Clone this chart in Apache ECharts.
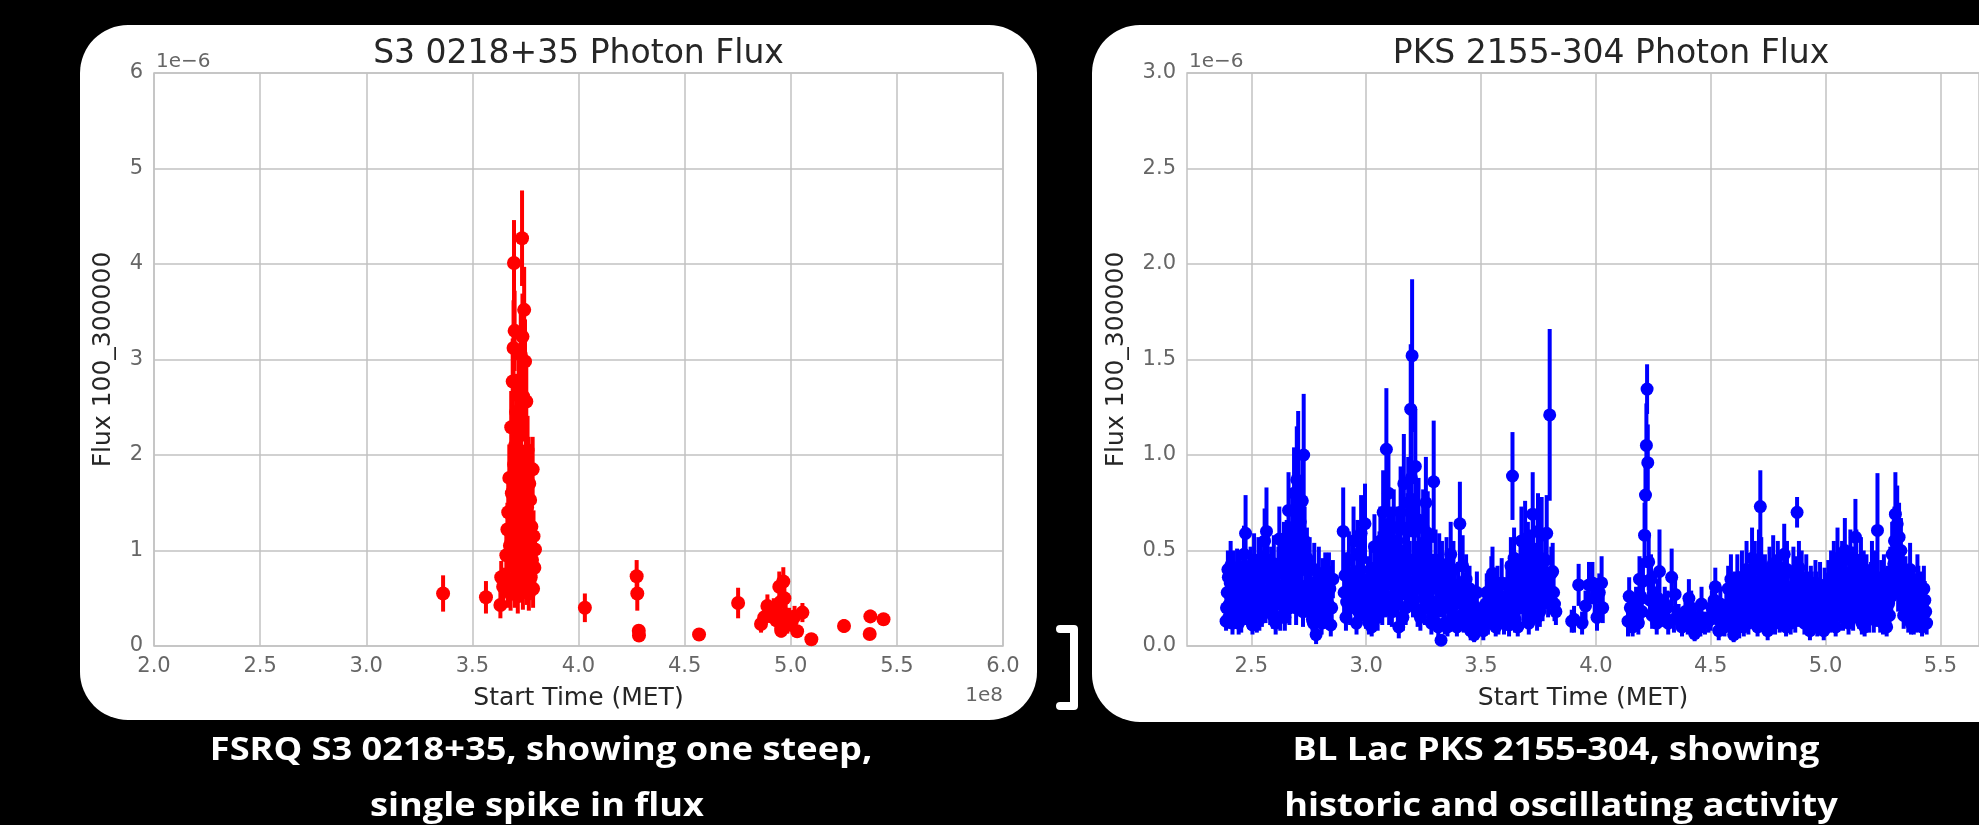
<!DOCTYPE html>
<html>
<head>
<meta charset="utf-8">
<script src="https://cdn.jsdelivr.net/npm/echarts@6/dist/echarts.min.js"></script>
<style>
    html, body { margin: 0; padding: 0; background: #000; }
    #wrap { position: relative; width: 1979px; height: 825px; overflow: hidden; background: #000; }
    .panel { position: absolute; background: #fff; border-radius: 48px; }
    #chart { position: absolute; left: 0; top: 0; width: 1979px; height: 825px; }
</style>
</head>
<body>
<div id="wrap">
    <div class="panel" style="left:80px;top:25px;width:957px;height:695px;"></div>
    <div class="panel" style="left:1092px;top:25px;width:1000px;height:697px;"></div>
    <div id="chart"></div>
</div>
<script>
// time in units of 1e8 s (MET), flux and error in units of 1e-6
const s3Points = [
    [3.362, 0.55, 0.19], [3.564, 0.51, 0.17], [3.632, 0.43, 0.14], [3.636, 0.72, 0.17], [3.645, 0.62, 0.20],
    [3.660, 0.95, 0.25], [3.665, 1.22, 0.28], [3.669, 1.40, 0.30], [3.672, 0.70, 0.22], [3.674, 1.76, 0.35],
    [3.677, 1.05, 0.25], [3.680, 0.55, 0.18], [3.683, 2.29, 0.38], [3.686, 1.60, 0.32], [3.688, 0.85, 0.24],
    [3.690, 2.77, 0.45], [3.692, 1.30, 0.30], [3.694, 3.12, 0.50], [3.696, 4.01, 0.45], [3.697, 1.90, 0.36],
    [3.699, 3.30, 0.42], [3.700, 0.62, 0.22], [3.702, 2.10, 0.38], [3.704, 1.15, 0.28], [3.706, 2.45, 0.40],
    [3.708, 0.80, 0.25], [3.710, 1.50, 0.32], [3.712, 2.00, 0.36], [3.714, 0.52, 0.18], [3.716, 1.75, 0.34],
    [3.718, 2.62, 0.40], [3.720, 1.02, 0.26], [3.722, 1.35, 0.30], [3.724, 0.70, 0.22], [3.726, 1.95, 0.36],
    [3.728, 3.05, 0.45], [3.730, 2.40, 0.40], [3.732, 1.20, 0.28], [3.734, 4.27, 0.50], [3.736, 3.24, 0.45],
    [3.738, 0.58, 0.20], [3.740, 2.61, 0.40], [3.742, 1.65, 0.33], [3.744, 3.52, 0.45], [3.746, 0.90, 0.25],
    [3.748, 2.98, 0.44], [3.750, 1.10, 0.27], [3.752, 1.85, 0.35], [3.754, 2.56, 0.40], [3.756, 0.65, 0.22],
    [3.758, 1.45, 0.30], [3.760, 2.05, 0.36], [3.762, 0.80, 0.24], [3.764, 1.28, 0.29], [3.766, 0.55, 0.18],
    [3.768, 1.70, 0.33], [3.770, 1.00, 0.26], [3.772, 1.53, 0.31], [3.775, 0.72, 0.22], [3.778, 1.25, 0.28],
    [3.781, 0.90, 0.25], [3.784, 1.85, 0.34], [3.788, 1.15, 0.27], [3.792, 0.82, 0.24], [3.795, 1.01, 0.26],
    [3.667, 0.60, 0.20], [3.685, 1.10, 0.28], [3.698, 1.45, 0.32], [3.707, 1.80, 0.35], [3.715, 1.20, 0.29],
    [3.723, 2.20, 0.38], [3.733, 1.60, 0.33], [3.741, 0.75, 0.24], [3.749, 1.35, 0.30], [3.757, 1.00, 0.27],
    [3.765, 1.85, 0.34], [3.773, 1.15, 0.28], [3.786, 0.60, 0.20],
    [4.030, 0.40, 0.15], [4.274, 0.73, 0.17], [4.277, 0.55, 0.18], [4.284, 0.16, 0.05], [4.285, 0.11, 0.04],
    [4.568, 0.12, 0.03], [4.752, 0.45, 0.16], [4.860, 0.23, 0.09], [4.875, 0.30, 0.10], [4.890, 0.42, 0.12],
    [4.905, 0.35, 0.11], [4.920, 0.38, 0.12], [4.932, 0.27, 0.10], [4.946, 0.62, 0.16], [4.952, 0.46, 0.14],
    [4.955, 0.16, 0.07], [4.965, 0.675, 0.15], [4.970, 0.50, 0.14], [4.976, 0.33, 0.11], [4.984, 0.22, 0.09],
    [4.992, 0.30, 0.10], [5.005, 0.26, 0.10], [5.018, 0.31, 0.11], [5.030, 0.155, 0.06], [5.055, 0.35, 0.10],
    [5.097, 0.07, 0.03], [5.251, 0.21, 0.07], [5.372, 0.125, 0.05], [5.375, 0.31, 0.07], [5.437, 0.28, 0.05]
];

const pksPoints = [
    [2.390, 0.13, 0.05], [2.395, 0.28, 0.10], [2.400, 0.36, 0.12], [2.405, 0.22, 0.08], [2.410, 0.42, 0.13],
    [2.415, 0.18, 0.07], [2.420, 0.31, 0.11], [2.425, 0.15, 0.06], [2.430, 0.26, 0.10], [2.438, 0.38, 0.13],
    [2.445, 0.12, 0.06], [2.452, 0.20, 0.08], [2.460, 0.33, 0.12], [2.468, 0.48, 0.15], [2.475, 0.59, 0.20],
    [2.482, 0.27, 0.10], [2.490, 0.16, 0.07], [2.497, 0.38, 0.14], [2.505, 0.11, 0.05], [2.512, 0.45, 0.14],
    [2.520, 0.22, 0.09], [2.528, 0.30, 0.11], [2.535, 0.14, 0.06], [2.542, 0.40, 0.13], [2.550, 0.25, 0.10],
    [2.558, 0.55, 0.17], [2.566, 0.60, 0.23], [2.574, 0.35, 0.12], [2.582, 0.18, 0.07], [2.590, 0.28, 0.11],
    [2.598, 0.43, 0.15], [2.606, 0.12, 0.06], [2.614, 0.32, 0.12], [2.622, 0.56, 0.17], [2.630, 0.24, 0.09],
    [2.638, 0.40, 0.14], [2.646, 0.15, 0.07], [2.654, 0.50, 0.16], [2.662, 0.71, 0.20], [2.670, 0.34, 0.12],
    [2.678, 0.62, 0.20], [2.686, 0.80, 0.24], [2.692, 0.45, 0.15], [2.698, 0.87, 0.28], [2.704, 0.86, 0.37],
    [2.710, 0.55, 0.18], [2.716, 0.28, 0.10], [2.722, 0.76, 0.22], [2.728, 1.00, 0.32], [2.735, 0.40, 0.14],
    [2.742, 0.46, 0.16], [2.750, 0.20, 0.08], [2.758, 0.33, 0.12], [2.766, 0.14, 0.06], [2.774, 0.40, 0.14],
    [2.782, 0.06, 0.05], [2.790, 0.22, 0.09], [2.798, 0.30, 0.11], [2.806, 0.12, 0.06], [2.814, 0.26, 0.10],
    [2.822, 0.35, 0.14], [2.830, 0.18, 0.08], [2.838, 0.35, 0.14], [2.846, 0.11, 0.06], [2.855, 0.35, 0.10],
    [2.900, 0.60, 0.23], [2.908, 0.37, 0.12], [2.915, 0.23, 0.09], [2.925, 0.45, 0.15], [2.935, 0.30, 0.11],
    [2.945, 0.55, 0.18], [2.955, 0.20, 0.08], [2.962, 0.48, 0.18], [2.970, 0.18, 0.07], [2.978, 0.59, 0.20],
    [2.986, 0.35, 0.12], [2.995, 0.64, 0.21], [3.003, 0.25, 0.10], [3.012, 0.12, 0.06], [3.020, 0.40, 0.14],
    [3.028, 0.20, 0.08], [3.036, 0.52, 0.17], [3.044, 0.28, 0.11], [3.050, 0.15, 0.07], [3.058, 0.45, 0.15],
    [3.066, 0.33, 0.12], [3.074, 0.70, 0.22], [3.082, 0.25, 0.10], [3.088, 1.03, 0.32], [3.097, 0.80, 0.25],
    [3.104, 0.45, 0.16], [3.112, 0.18, 0.08], [3.120, 0.62, 0.20], [3.127, 0.30, 0.11], [3.135, 0.55, 0.18],
    [3.142, 0.10, 0.06], [3.150, 0.70, 0.24], [3.157, 0.38, 0.14], [3.164, 0.85, 0.26], [3.172, 0.20, 0.09],
    [3.180, 0.60, 0.20], [3.187, 0.30, 0.12], [3.194, 1.24, 0.34], [3.200, 1.52, 0.40], [3.207, 0.45, 0.16],
    [3.214, 0.94, 0.30], [3.220, 0.30, 0.11], [3.228, 0.66, 0.22], [3.236, 0.15, 0.07], [3.244, 0.50, 0.18],
    [3.252, 0.25, 0.10], [3.260, 0.75, 0.24], [3.268, 0.59, 0.22], [3.276, 0.35, 0.13], [3.284, 0.12, 0.06],
    [3.294, 0.86, 0.32], [3.302, 0.45, 0.16], [3.310, 0.20, 0.09], [3.318, 0.44, 0.15], [3.326, 0.03, 0.03],
    [3.334, 0.28, 0.11], [3.342, 0.12, 0.06], [3.350, 0.42, 0.15], [3.358, 0.22, 0.09], [3.368, 0.48, 0.17],
    [3.376, 0.15, 0.07], [3.385, 0.30, 0.11], [3.395, 0.10, 0.05], [3.408, 0.64, 0.22], [3.416, 0.25, 0.10],
    [3.425, 0.14, 0.07], [3.435, 0.35, 0.13], [3.445, 0.20, 0.08], [3.455, 0.08, 0.05], [3.462, 0.22, 0.09],
    [3.470, 0.06, 0.04], [3.478, 0.20, 0.08], [3.488, 0.12, 0.06], [3.505, 0.13, 0.06], [3.515, 0.18, 0.08],
    [3.525, 0.28, 0.10], [3.535, 0.20, 0.09], [3.545, 0.34, 0.13], [3.552, 0.14, 0.06], [3.560, 0.30, 0.11],
    [3.568, 0.22, 0.09], [3.576, 0.12, 0.06], [3.585, 0.25, 0.10], [3.595, 0.16, 0.07], [3.605, 0.20, 0.08],
    [3.615, 0.32, 0.12], [3.622, 0.11, 0.06], [3.630, 0.42, 0.15], [3.637, 0.89, 0.23], [3.644, 0.46, 0.16],
    [3.652, 0.25, 0.10], [3.660, 0.10, 0.05], [3.668, 0.30, 0.11], [3.676, 0.55, 0.18], [3.684, 0.20, 0.08],
    [3.692, 0.56, 0.20], [3.700, 0.35, 0.13], [3.708, 0.12, 0.06], [3.716, 0.45, 0.16], [3.725, 0.69, 0.22],
    [3.732, 0.25, 0.10], [3.740, 0.40, 0.14], [3.748, 0.60, 0.20], [3.756, 0.18, 0.08], [3.764, 0.58, 0.20],
    [3.772, 0.30, 0.11], [3.780, 0.45, 0.16], [3.786, 0.59, 0.20], [3.799, 1.21, 0.45], [3.806, 0.38, 0.14],
    [3.812, 0.39, 0.15], [3.820, 0.22, 0.09], [3.826, 0.18, 0.07], [3.895, 0.13, 0.06], [3.905, 0.14, 0.07],
    [3.925, 0.32, 0.11], [3.940, 0.12, 0.06], [3.955, 0.21, 0.08], [3.970, 0.32, 0.12], [3.985, 0.33, 0.11],
    [3.995, 0.25, 0.09], [4.005, 0.15, 0.07], [4.015, 0.28, 0.10], [4.025, 0.33, 0.14], [4.030, 0.20, 0.08],
    [4.140, 0.13, 0.08], [4.150, 0.20, 0.08], [4.160, 0.10, 0.05], [4.175, 0.22, 0.09], [4.190, 0.35, 0.12],
    [4.200, 0.18, 0.08], [4.205, 0.34, 0.12], [4.212, 0.58, 0.17], [4.216, 0.79, 0.18], [4.220, 1.05, 0.22],
    [4.223, 1.345, 0.13], [4.226, 0.96, 0.20], [4.230, 0.44, 0.15], [4.236, 0.24, 0.09], [4.245, 0.16, 0.07],
    [4.255, 0.20, 0.08], [4.265, 0.12, 0.06], [4.277, 0.39, 0.22], [4.290, 0.17, 0.07], [4.300, 0.22, 0.09],
    [4.315, 0.12, 0.06], [4.330, 0.36, 0.15], [4.345, 0.27, 0.10], [4.360, 0.15, 0.07], [4.375, 0.10, 0.05],
    [4.390, 0.18, 0.08], [4.405, 0.25, 0.10], [4.420, 0.11, 0.06], [4.430, 0.065, 0.04], [4.445, 0.15, 0.07],
    [4.460, 0.22, 0.09], [4.475, 0.12, 0.06], [4.490, 0.13, 0.06], [4.505, 0.20, 0.09], [4.520, 0.31, 0.10],
    [4.535, 0.08, 0.05], [4.548, 0.15, 0.07], [4.560, 0.10, 0.05], [4.568, 0.205, 0.08], [4.576, 0.30, 0.12],
    [4.584, 0.12, 0.06], [4.592, 0.25, 0.10], [4.600, 0.06, 0.04], [4.608, 0.18, 0.08], [4.616, 0.35, 0.13],
    [4.624, 0.10, 0.06], [4.632, 0.28, 0.11], [4.640, 0.15, 0.07], [4.648, 0.22, 0.09], [4.656, 0.40, 0.15],
    [4.664, 0.12, 0.06], [4.672, 0.30, 0.12], [4.680, 0.46, 0.16], [4.688, 0.18, 0.08], [4.696, 0.26, 0.10],
    [4.704, 0.10, 0.05], [4.710, 0.45, 0.16], [4.716, 0.73, 0.19], [4.724, 0.33, 0.12], [4.732, 0.15, 0.07],
    [4.740, 0.25, 0.10], [4.748, 0.08, 0.05], [4.756, 0.38, 0.14], [4.764, 0.20, 0.08], [4.772, 0.43, 0.15],
    [4.780, 0.12, 0.06], [4.788, 0.28, 0.11], [4.796, 0.16, 0.07], [4.804, 0.34, 0.13], [4.812, 0.22, 0.09],
    [4.820, 0.48, 0.16], [4.828, 0.10, 0.05], [4.836, 0.30, 0.11], [4.844, 0.18, 0.08], [4.852, 0.26, 0.10],
    [4.860, 0.38, 0.14], [4.868, 0.14, 0.07], [4.876, 0.70, 0.08], [4.884, 0.41, 0.14], [4.892, 0.20, 0.08],
    [4.900, 0.30, 0.11], [4.908, 0.12, 0.06], [4.916, 0.35, 0.13], [4.924, 0.22, 0.09], [4.932, 0.08, 0.05],
    [4.940, 0.28, 0.11], [4.948, 0.15, 0.07], [4.956, 0.33, 0.12], [4.964, 0.10, 0.05], [4.972, 0.25, 0.10],
    [4.980, 0.18, 0.08], [4.988, 0.12, 0.06], [4.996, 0.30, 0.11], [5.004, 0.20, 0.09], [5.012, 0.33, 0.12],
    [5.020, 0.14, 0.07], [5.028, 0.26, 0.10], [5.036, 0.40, 0.15], [5.044, 0.10, 0.05], [5.052, 0.46, 0.16],
    [5.060, 0.22, 0.09], [5.068, 0.35, 0.13], [5.076, 0.15, 0.07], [5.084, 0.50, 0.17], [5.092, 0.28, 0.11],
    [5.100, 0.12, 0.06], [5.108, 0.45, 0.16], [5.116, 0.20, 0.09], [5.124, 0.38, 0.14], [5.130, 0.57, 0.20],
    [5.138, 0.30, 0.11], [5.146, 0.16, 0.07], [5.154, 0.42, 0.15], [5.162, 0.24, 0.09], [5.170, 0.10, 0.05],
    [5.178, 0.35, 0.13], [5.186, 0.18, 0.08], [5.194, 0.28, 0.11], [5.202, 0.40, 0.15], [5.210, 0.14, 0.07],
    [5.218, 0.26, 0.10], [5.226, 0.605, 0.30], [5.234, 0.20, 0.08], [5.242, 0.33, 0.12], [5.250, 0.12, 0.06],
    [5.258, 0.30, 0.11], [5.266, 0.10, 0.05], [5.274, 0.22, 0.09], [5.282, 0.38, 0.14], [5.290, 0.48, 0.17],
    [5.297, 0.43, 0.15], [5.304, 0.69, 0.22], [5.312, 0.64, 0.20], [5.320, 0.57, 0.18], [5.328, 0.50, 0.17],
    [5.336, 0.36, 0.13], [5.344, 0.22, 0.09], [5.352, 0.30, 0.11], [5.360, 0.14, 0.07], [5.368, 0.40, 0.14],
    [5.376, 0.20, 0.08], [5.384, 0.12, 0.06], [5.392, 0.25, 0.10], [5.400, 0.35, 0.13], [5.408, 0.15, 0.07],
    [5.416, 0.28, 0.11], [5.424, 0.20, 0.09], [5.432, 0.24, 0.10], [5.440, 0.12, 0.06],
    // in-between bins
    [2.392, 0.20, 0.09], [2.398, 0.40, 0.10], [2.402, 0.15, 0.06], [2.408, 0.33, 0.12], [2.412, 0.25, 0.10],
    [2.418, 0.12, 0.06], [2.423, 0.38, 0.12], [2.428, 0.20, 0.09], [2.434, 0.30, 0.12], [2.442, 0.24, 0.10],
    [2.448, 0.35, 0.13], [2.456, 0.14, 0.07], [2.464, 0.26, 0.10], [2.471, 0.38, 0.14], [2.478, 0.20, 0.09],
    [2.486, 0.32, 0.13], [2.494, 0.22, 0.09], [2.501, 0.30, 0.12], [2.508, 0.18, 0.08], [2.516, 0.35, 0.13],
    [2.524, 0.13, 0.06], [2.531, 0.42, 0.15], [2.538, 0.26, 0.11], [2.546, 0.18, 0.08], [2.554, 0.36, 0.14],
    [2.562, 0.22, 0.10], [2.570, 0.45, 0.16], [2.578, 0.27, 0.11], [2.586, 0.38, 0.14], [2.594, 0.16, 0.07],
    [2.602, 0.30, 0.12], [2.610, 0.22, 0.09], [2.618, 0.38, 0.14], [2.626, 0.15, 0.07], [2.634, 0.30, 0.12],
    [2.642, 0.48, 0.17], [2.650, 0.26, 0.10], [2.658, 0.36, 0.14], [2.666, 0.20, 0.09], [2.674, 0.45, 0.16],
    [2.682, 0.30, 0.12], [2.689, 0.62, 0.22], [2.695, 0.20, 0.09], [2.701, 0.40, 0.16], [2.707, 0.32, 0.13],
    [2.713, 0.65, 0.22], [2.719, 0.45, 0.17], [2.725, 0.18, 0.08], [2.732, 0.55, 0.18], [2.738, 0.25, 0.10],
    [2.746, 0.32, 0.12], [2.754, 0.42, 0.15], [2.762, 0.24, 0.10], [2.770, 0.12, 0.06], [2.778, 0.28, 0.11],
    [2.786, 0.18, 0.08], [2.794, 0.38, 0.14], [2.802, 0.22, 0.09], [2.810, 0.34, 0.12], [2.818, 0.16, 0.07],
    [2.826, 0.28, 0.11], [2.834, 0.22, 0.09], [2.842, 0.30, 0.12], [2.850, 0.20, 0.09],
    [2.904, 0.28, 0.11], [2.912, 0.15, 0.07], [2.920, 0.36, 0.13], [2.930, 0.20, 0.09], [2.940, 0.38, 0.14],
    [2.950, 0.26, 0.10], [2.958, 0.12, 0.06], [2.966, 0.33, 0.13], [2.974, 0.40, 0.15], [2.982, 0.22, 0.09],
    [2.990, 0.30, 0.12], [2.999, 0.16, 0.07], [3.008, 0.34, 0.13], [3.016, 0.24, 0.10], [3.024, 0.10, 0.05],
    [3.032, 0.32, 0.12], [3.040, 0.18, 0.08], [3.047, 0.38, 0.14], [3.054, 0.24, 0.10], [3.062, 0.55, 0.18],
    [3.070, 0.20, 0.09], [3.078, 0.40, 0.15], [3.085, 0.50, 0.17], [3.093, 0.33, 0.13], [3.100, 0.20, 0.09],
    [3.108, 0.55, 0.18], [3.116, 0.36, 0.14], [3.124, 0.25, 0.10], [3.131, 0.42, 0.15], [3.138, 0.22, 0.09],
    [3.146, 0.50, 0.18], [3.153, 0.28, 0.11], [3.160, 0.15, 0.07], [3.168, 0.48, 0.17], [3.176, 0.35, 0.13],
    [3.183, 0.75, 0.24], [3.190, 0.40, 0.15], [3.197, 0.88, 0.28], [3.204, 0.25, 0.10], [3.210, 0.60, 0.20],
    [3.217, 0.40, 0.15], [3.224, 0.18, 0.08], [3.232, 0.42, 0.15], [3.240, 0.30, 0.12], [3.248, 0.62, 0.20],
    [3.256, 0.20, 0.09], [3.264, 0.38, 0.14], [3.272, 0.22, 0.09], [3.280, 0.45, 0.16], [3.288, 0.30, 0.12],
    [3.298, 0.18, 0.08], [3.306, 0.35, 0.13], [3.314, 0.10, 0.05], [3.322, 0.25, 0.10], [3.330, 0.40, 0.15],
    [3.338, 0.20, 0.09], [3.346, 0.30, 0.12], [3.354, 0.10, 0.05], [3.363, 0.35, 0.13], [3.372, 0.22, 0.09],
    [3.380, 0.40, 0.15], [3.390, 0.22, 0.09], [3.400, 0.32, 0.12], [3.412, 0.16, 0.07], [3.420, 0.42, 0.16],
    [3.430, 0.25, 0.10], [3.440, 0.12, 0.06], [3.450, 0.30, 0.12], [3.466, 0.14, 0.07], [3.482, 0.28, 0.11],
    [3.510, 0.08, 0.05], [3.520, 0.22, 0.09], [3.530, 0.12, 0.06], [3.540, 0.25, 0.10], [3.550, 0.38, 0.14],
    [3.557, 0.20, 0.09], [3.564, 0.10, 0.05], [3.572, 0.30, 0.12], [3.580, 0.18, 0.08], [3.590, 0.33, 0.13],
    [3.600, 0.12, 0.06], [3.610, 0.26, 0.10], [3.618, 0.18, 0.08], [3.626, 0.30, 0.12], [3.634, 0.22, 0.09],
    [3.641, 0.38, 0.14], [3.648, 0.14, 0.07], [3.656, 0.35, 0.13], [3.664, 0.20, 0.09], [3.672, 0.42, 0.15],
    [3.680, 0.28, 0.11], [3.688, 0.38, 0.14], [3.696, 0.22, 0.09], [3.704, 0.48, 0.17], [3.712, 0.30, 0.12],
    [3.720, 0.20, 0.09], [3.728, 0.50, 0.18], [3.736, 0.32, 0.12], [3.744, 0.15, 0.07], [3.752, 0.42, 0.15],
    [3.760, 0.30, 0.12], [3.768, 0.22, 0.09], [3.776, 0.36, 0.13], [3.792, 0.25, 0.10], [3.816, 0.28, 0.11],
    [4.145, 0.26, 0.10], [4.170, 0.15, 0.07], [4.185, 0.12, 0.06], [4.195, 0.26, 0.10], [4.240, 0.35, 0.13],
    [4.250, 0.28, 0.11], [4.260, 0.16, 0.07], [4.270, 0.25, 0.10], [4.310, 0.20, 0.09], [4.340, 0.14, 0.07],
    [4.400, 0.12, 0.06], [4.415, 0.20, 0.09], [4.455, 0.10, 0.05], [4.500, 0.15, 0.07], [4.515, 0.24, 0.10],
    [4.530, 0.14, 0.07], [4.542, 0.22, 0.09],
    [4.572, 0.15, 0.07], [4.580, 0.22, 0.09], [4.588, 0.35, 0.13], [4.596, 0.14, 0.07], [4.604, 0.28, 0.11],
    [4.612, 0.12, 0.06], [4.620, 0.25, 0.10], [4.628, 0.20, 0.09], [4.636, 0.36, 0.14], [4.644, 0.10, 0.05],
    [4.652, 0.30, 0.12], [4.660, 0.22, 0.09], [4.668, 0.16, 0.07], [4.676, 0.35, 0.13], [4.684, 0.25, 0.10],
    [4.692, 0.40, 0.15], [4.700, 0.20, 0.09], [4.707, 0.30, 0.12], [4.713, 0.18, 0.08], [4.720, 0.42, 0.15],
    [4.728, 0.24, 0.10], [4.736, 0.35, 0.13], [4.744, 0.20, 0.09], [4.752, 0.30, 0.12], [4.760, 0.12, 0.06],
    [4.768, 0.26, 0.10], [4.776, 0.35, 0.13], [4.784, 0.20, 0.09], [4.792, 0.40, 0.15], [4.800, 0.14, 0.07],
    [4.808, 0.25, 0.10], [4.816, 0.32, 0.12], [4.824, 0.20, 0.09], [4.832, 0.40, 0.15], [4.840, 0.24, 0.10],
    [4.848, 0.12, 0.06], [4.856, 0.30, 0.12], [4.864, 0.22, 0.09], [4.872, 0.34, 0.13], [4.880, 0.18, 0.08],
    [4.888, 0.28, 0.11], [4.896, 0.36, 0.14], [4.904, 0.22, 0.09], [4.912, 0.15, 0.07], [4.920, 0.28, 0.11],
    [4.928, 0.20, 0.09], [4.936, 0.30, 0.12], [4.944, 0.12, 0.06], [4.952, 0.22, 0.09], [4.960, 0.28, 0.11],
    [4.968, 0.16, 0.07], [4.976, 0.32, 0.12], [4.984, 0.22, 0.09], [4.992, 0.08, 0.05], [5.000, 0.26, 0.10],
    [5.008, 0.14, 0.07], [5.016, 0.22, 0.09], [5.024, 0.36, 0.14], [5.032, 0.20, 0.09], [5.040, 0.30, 0.12],
    [5.048, 0.18, 0.08], [5.056, 0.34, 0.13], [5.064, 0.26, 0.10], [5.072, 0.40, 0.15], [5.080, 0.22, 0.09],
    [5.088, 0.34, 0.13], [5.096, 0.18, 0.08], [5.104, 0.30, 0.12], [5.112, 0.38, 0.14], [5.120, 0.15, 0.07],
    [5.128, 0.30, 0.12], [5.134, 0.45, 0.16], [5.142, 0.22, 0.09], [5.150, 0.32, 0.12], [5.158, 0.12, 0.06],
    [5.166, 0.36, 0.14], [5.174, 0.20, 0.09], [5.182, 0.28, 0.11], [5.190, 0.14, 0.07], [5.198, 0.32, 0.12],
    [5.206, 0.22, 0.09], [5.214, 0.36, 0.14], [5.222, 0.18, 0.08], [5.230, 0.28, 0.11], [5.238, 0.14, 0.07],
    [5.246, 0.24, 0.10], [5.254, 0.35, 0.13], [5.262, 0.20, 0.09], [5.270, 0.30, 0.12], [5.278, 0.16, 0.07],
    [5.286, 0.26, 0.10], [5.294, 0.35, 0.13], [5.300, 0.55, 0.18], [5.308, 0.40, 0.15], [5.316, 0.30, 0.12],
    [5.324, 0.44, 0.16], [5.332, 0.28, 0.11], [5.340, 0.16, 0.07], [5.348, 0.34, 0.13], [5.356, 0.24, 0.10],
    [5.364, 0.30, 0.12], [5.372, 0.12, 0.06], [5.380, 0.28, 0.11], [5.388, 0.20, 0.09], [5.396, 0.14, 0.07],
    [5.404, 0.30, 0.12], [5.412, 0.22, 0.09], [5.420, 0.10, 0.05], [5.428, 0.30, 0.12], [5.436, 0.18, 0.08]
];

const s3XTicks = [2.0, 2.5, 3.0, 3.5, 4.0, 4.5, 5.0, 5.5, 6.0];
const pksXTicks = [2.5, 3.0, 3.5, 4.0, 4.5, 5.0, 5.5];

const titles = ['S3 0218+35 Photon Flux', 'PKS 2155-304 Photon Flux'];
const captions = [
    ['FSRQ S3 0218+35, showing one steep,', 'single spike in flux'],
    ['BL Lac PKS 2155-304, showing', 'historic and oscillating activity']
];

var myChart = echarts.init(document.getElementById('chart'));

var gridCol = '#c2c2c2';
var tickCol = '#666';
var labelCol = '#262626';
var mplFont = 'DejaVu Sans';

function errorBars(width) {
    return function (params, api) {
        var x = api.value(0), y = api.value(1), e = api.value(2);
        var p1 = api.coord([x, y + e]);
        var p2 = api.coord([x, y - e]);
        return {
            type: 'line',
            shape: { x1: p1[0], y1: p1[1], x2: p2[0], y2: p2[1] },
            style: { stroke: api.visual('color'), lineWidth: width }
        };
    };
}

function xAxisOf(idx, min, max, ticks) {
    return {
        type: 'value', gridIndex: idx, min: min, max: max,
        name: 'Start Time (MET)', nameLocation: 'middle', nameGap: 40,
        nameTextStyle: { fontFamily: mplFont, fontSize: 25, color: labelCol },
        axisLine: { show: false },
        axisTick: { show: false, customValues: ticks },
        axisLabel: {
            customValues: ticks, margin: 10,
            fontFamily: mplFont, fontSize: 21, color: tickCol,
            formatter: function (v) { return v.toFixed(1); }
        },
        splitLine: { show: true, lineStyle: { color: gridCol, width: 1.5 } }
    };
}

function yAxisOf(idx, max, interval, gap, fmt) {
    return {
        type: 'value', gridIndex: idx, min: 0, max: max, interval: interval,
        name: 'Flux 100_300000', nameLocation: 'middle', nameGap: gap,
        nameTextStyle: { fontFamily: mplFont, fontSize: 25, color: labelCol },
        axisLine: { show: false },
        axisTick: { show: false },
        axisLabel: { margin: 11, fontFamily: mplFont, fontSize: 21, color: tickCol, formatter: fmt },
        splitLine: { show: true, lineStyle: { color: gridCol, width: 1.5 } }
    };
}

function textEl(x, y, str, size, color, align, family, weight, sx) {
    return {
        type: 'text', x: x, y: y, scaleX: sx || 1,
        style: {
            text: str, fill: color, align: align, verticalAlign: 'middle',
            font: (weight || 'normal') + ' ' + size + 'px "' + family + '"'
        }
    };
}

var option = {
    animation: false,
    backgroundColor: 'transparent',
    grid: [
        { left: 154, top: 73, width: 849, height: 573, show: true, borderColor: gridCol, borderWidth: 1.5 },
        { left: 1187, top: 73, width: 849, height: 573, show: true, borderColor: gridCol, borderWidth: 1.5 }
    ],
    xAxis: [
        xAxisOf(0, 2.0, 6.0, s3XTicks),
        xAxisOf(1, 2.22, 5.668, pksXTicks)
    ],
    yAxis: [
        yAxisOf(0, 6, 1, 38, function (v) { return String(v); }),
        yAxisOf(1, 3, 0.5, 58, function (v) { return v.toFixed(1); })
    ],
    series: [
        {
            type: 'custom', xAxisIndex: 0, yAxisIndex: 0, clip: true,
            itemStyle: { color: '#ff0000' }, renderItem: errorBars(4),
            encode: { x: 0, y: 1 }, data: s3Points
        },
        {
            type: 'scatter', xAxisIndex: 0, yAxisIndex: 0, symbolSize: 14,
            itemStyle: { color: '#ff0000', opacity: 1 }, data: s3Points
        },
        {
            type: 'custom', xAxisIndex: 1, yAxisIndex: 1, clip: true,
            itemStyle: { color: '#0000ff' }, renderItem: errorBars(4),
            encode: { x: 0, y: 1 }, data: pksPoints
        },
        {
            type: 'scatter', xAxisIndex: 1, yAxisIndex: 1, symbolSize: 13, clip: true,
            itemStyle: { color: '#0000ff', opacity: 1 }, data: pksPoints
        }
    ],
    graphic: [
        textEl(578.5, 54, titles[0], 33, labelCol, 'center', mplFont),
        textEl(1611, 54, titles[1], 33, labelCol, 'center', mplFont),
        textEl(156, 62, '1e\u22126', 20, tickCol, 'left', mplFont),
        textEl(1189, 62, '1e\u22126', 20, tickCol, 'left', mplFont),
        textEl(1003, 696, '1e8', 20, tickCol, 'right', mplFont),
        textEl(541, 751, captions[0][0], 32, '#fff', 'center', 'Open Sans', 'bold', 1.13),
        textEl(537, 807, captions[0][1], 32, '#fff', 'center', 'Open Sans', 'bold', 1.13),
        textEl(1556, 751, captions[1][0], 32, '#fff', 'center', 'Open Sans', 'bold', 1.13),
        textEl(1561, 807, captions[1][1], 32, '#fff', 'center', 'Open Sans', 'bold', 1.13),
        {
            type: 'polyline',
            shape: { points: [[1060, 629], [1074, 629], [1074, 706], [1060, 706]] },
            style: { stroke: '#fff', lineWidth: 8, fill: null, lineJoin: 'round', lineCap: 'round' }
        }
    ]
};

myChart.setOption(option);
</script>
</body>
</html>
